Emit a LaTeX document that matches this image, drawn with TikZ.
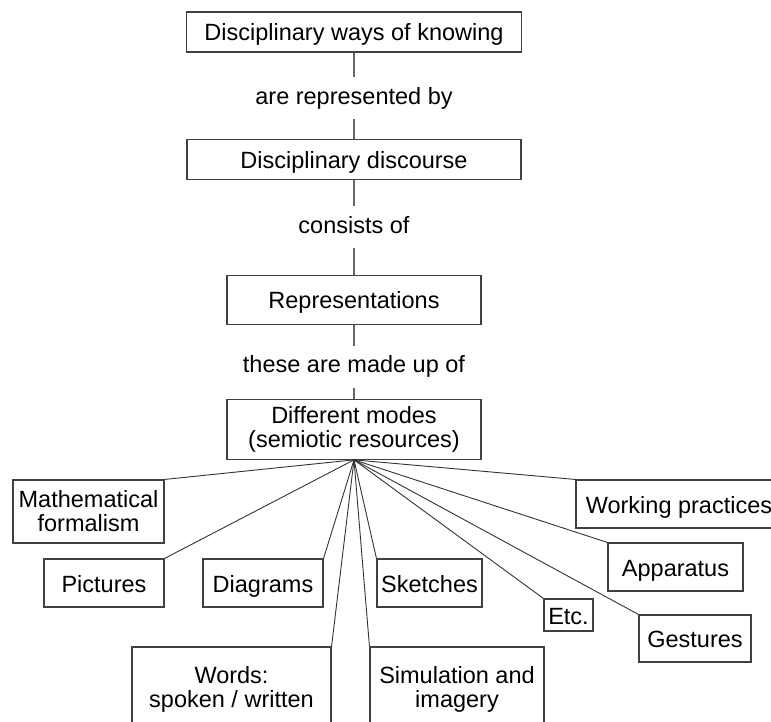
\documentclass[tikz,border=0pt]{standalone}
\usepackage{fontspec}
\setmainfont{Liberation Sans}
\usetikzlibrary{positioning}

\begin{document}
\begin{tikzpicture}[x=1pt,y=-1pt,
  every node/.style={font=\fontsize{23.5}{24}\selectfont},
  box/.style={draw=black!75,line width=1.1pt,align=center,inner sep=0pt},
  oneline/.style={text height=18pt,text depth=0pt},
  lbl/.style={fill=white,inner xsep=4pt,inner ysep=10pt,text height=17pt,text depth=5pt},
  stem/.style={draw=black!60,line width=1.2pt},
  spoke/.style={draw=black!80,line width=0.9pt}]
  \useasboundingbox (0,0) rectangle (771,722);
  \clip (0,0) rectangle (771,722);

  % the chain down the middle
  \node at (354,32) [box,oneline,minimum width=335pt,minimum height=40pt] (know) {Disciplinary ways of knowing};
  \node [box,oneline,below=86pt of know,minimum width=334pt,minimum height=40pt] (disc) {Disciplinary discourse};
  \node [box,oneline,below=95pt of disc,minimum width=254pt,minimum height=49pt] (repr) {Representations};
  \node [box,below=74pt of repr,minimum width=254pt,minimum height=60pt] (modes) {Different modes\\(semiotic resources)};

  \draw[stem] (know) -- node[lbl,pos=0.53] {are represented by} (disc);
  \draw[stem] (disc) -- node[lbl] {consists of} (repr);
  \draw[stem] (repr) -- node[lbl,pos=0.57] {these are made up of} (modes);

  % the modes
  \node at (88.5,511.5) [box,minimum width=151pt,minimum height=63pt] (formal) {Mathematical\\formalism};
  \node at (104,583) [box,oneline,minimum width=120pt,minimum height=48pt] (pict) {Pictures};
  \node at (263,583) [box,oneline,minimum width=120pt,minimum height=48pt] (diag) {Diagrams};
  \node at (429.5,583) [box,oneline,minimum width=105pt,minimum height=48pt] (sketch) {Sketches};
  \node at (231.5,689) [box,minimum width=199pt,minimum height=84pt] (words) {Words:\\spoken / written};
  \node at (457,689) [box,minimum width=174pt,minimum height=84pt] (sim) {Simulation and\\imagery};
  \node at (568.5,615) [box,oneline,minimum width=49pt,minimum height=32pt] (etcbox) {Etc.};
  \node at (695,638.5) [box,oneline,minimum width=112pt,minimum height=47pt] (gest) {Gestures};
  \node at (675.5,567) [box,oneline,minimum width=135pt,minimum height=48pt] (appar) {Apparatus};
  \node at (679,504) [box,oneline,minimum width=206pt,minimum height=48pt] (work) {Working practices};

  \foreach \n/\a in {formal/north east,pict/north east,diag/north east,words/north east,
      sim/north west,sketch/north west,etcbox/north west,gest/north west,appar/north west,work/north west}
    \draw[spoke] (modes.south) -- (\n.\a);
\end{tikzpicture}
\end{document}
